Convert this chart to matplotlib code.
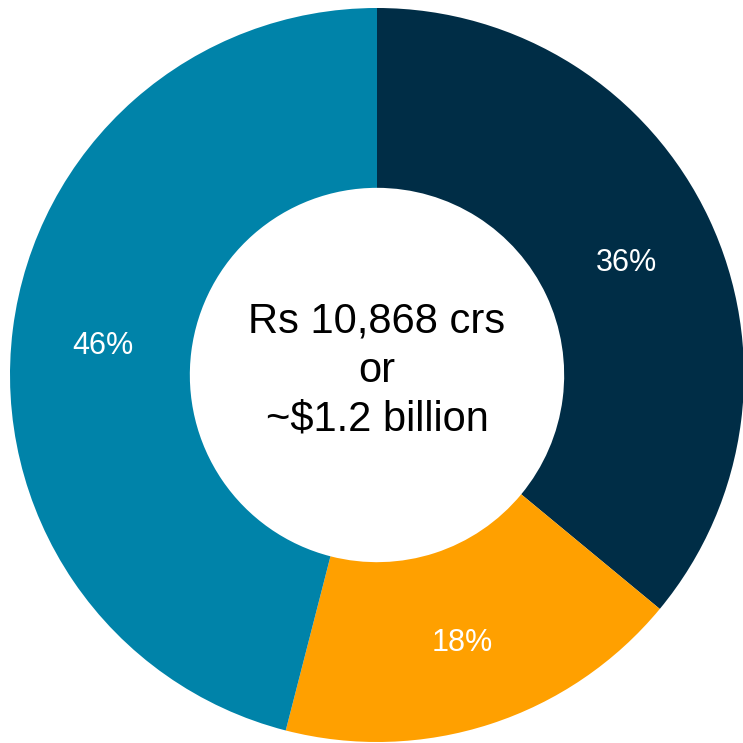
import matplotlib.pyplot as plt
import numpy as np

# Share of the total by segment
shares = [36, 18, 46]
labels = ["36%", "18%", "46%"]
colors = ["#002D46", "#FFA000", "#0083A9"]
center_text = "Rs 10,868 crs\nor\n~$1.2 billion"

plt.rcParams["font.family"] = ["Liberation Sans", "DejaVu Sans"]

fig = plt.figure(figsize=(7.43, 7.43), dpi=100)
ax = fig.add_axes([0, 0, 1, 1])

wedges, _ = ax.pie(
    shares,
    colors=colors,
    startangle=90,
    counterclock=False,
    radius=1.0,
    wedgeprops=dict(width=0.49, edgecolor="none"),
)

# Percentage labels placed at the middle of the ring
for w, lab in zip(wedges, labels):
    ang = np.deg2rad((w.theta1 + w.theta2) / 2)
    r = 0.752
    ax.text(r * np.cos(ang), r * np.sin(ang) - 0.014, lab, ha="center",
            va="center", color="white", fontsize=22)

ax.text(0, 0.012, center_text, ha="center", va="center", fontsize=30,
        color="black", linespacing=1.3)

ax.set_xlim(-377 / 367, 366 / 367)
ax.set_ylim(-368 / 367, 375 / 367)
ax.set_aspect("equal")
ax.axis("off")

fig.savefig("out.png", dpi=100, facecolor="white")
